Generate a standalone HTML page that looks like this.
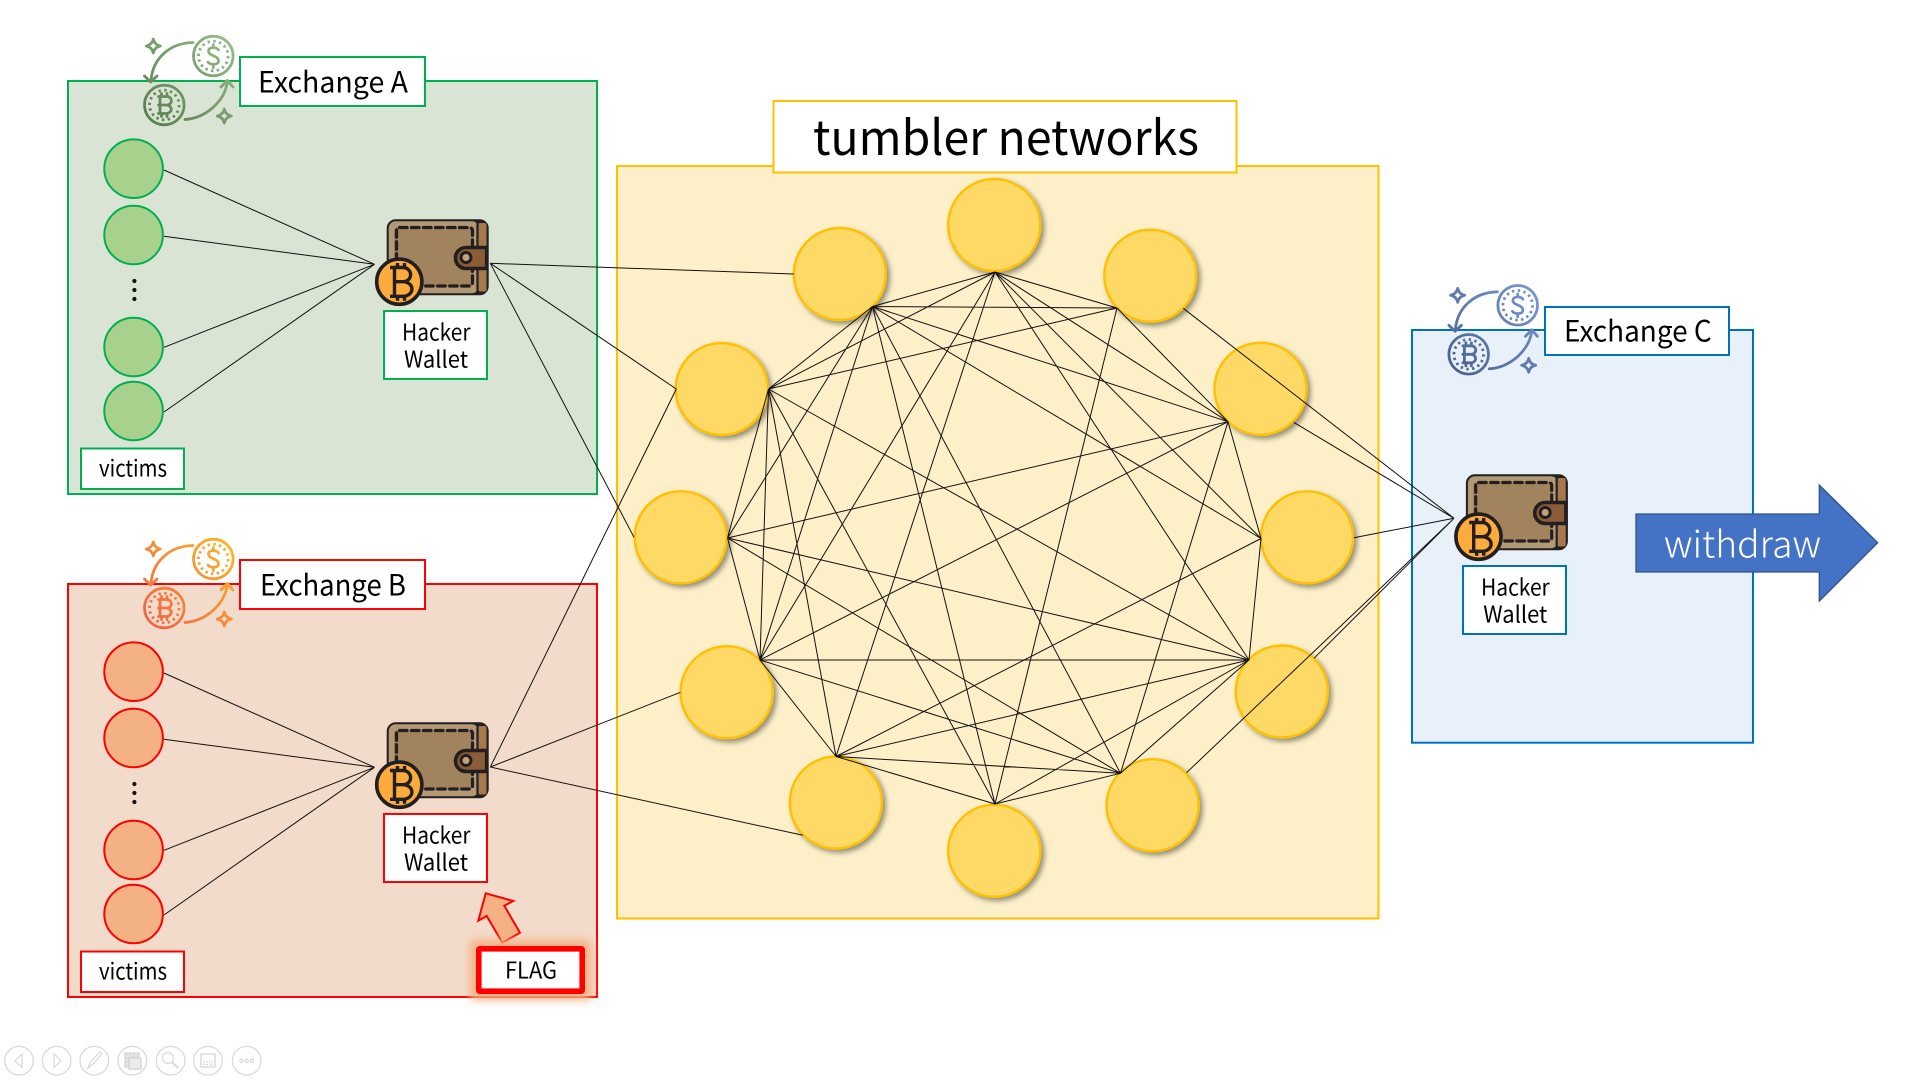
<!DOCTYPE html>
<html lang="en"><head><meta charset="utf-8"><title>Tumbler networks</title>
<style>
html,body{margin:0;padding:0;background:#fff;width:1920px;height:1080px;overflow:hidden}
svg{display:block}
text{font-family:"Noto Sans CJK KR","Liberation Sans",sans-serif;fill:#000}
.tb circle.o{fill:none;stroke:#d9d9d9;stroke-width:1.3}
</style></head><body>
<svg width="1920" height="1080" viewBox="0 0 1920 1080" xmlns="http://www.w3.org/2000/svg">
<defs>
<filter id="sh" x="-30%" y="-30%" width="170%" height="170%"><feDropShadow dx="3" dy="3" stdDeviation="2.6" flood-color="#000" flood-opacity=".42"/></filter>
<filter id="glow" x="-30%" y="-50%" width="160%" height="200%"><feGaussianBlur stdDeviation="4.5"/></filter>
<linearGradient id="gA" gradientUnits="userSpaceOnUse" x1="145" y1="125" x2="235" y2="36"><stop offset="0" stop-color="#567B4E"/><stop offset="1" stop-color="#97C088"/></linearGradient>
<linearGradient id="gB" gradientUnits="userSpaceOnUse" x1="145" y1="125" x2="235" y2="36"><stop offset="0" stop-color="#EE6248"/><stop offset="1" stop-color="#FDB927"/></linearGradient>
<linearGradient id="gC" gradientUnits="userSpaceOnUse" x1="145" y1="125" x2="235" y2="36"><stop offset="0" stop-color="#475F8E"/><stop offset="1" stop-color="#7A9AD2"/></linearGradient>
<g id="xc" fill="none" stroke-linecap="round" stroke-linejoin="round" style="stroke:var(--c)">
<circle cx="213.3" cy="56" r="19.8" stroke-width="2.8"/>
<circle cx="213.3" cy="56" r="14.8" stroke-width="2.8" stroke-dasharray="2.4 3.4" stroke-linecap="butt"/>
<path d="M218.5,50 C217,47 208.5,46.5 208.5,51 C208.5,56.5 218.5,55 218.5,61 C218.5,65.5 209.5,65 208,62 M213.3,44.5 v2.6 M213.3,65 v2.6" stroke-width="2.7"/>
<circle cx="164.3" cy="105" r="19.8" stroke-width="2.8"/>
<circle cx="164.3" cy="105" r="14.8" stroke-width="2.8" stroke-dasharray="2.4 3.4" stroke-linecap="butt"/>
<path d="M158.5,96.5 H167 a4.3,4.2 0 0 1 0,8.5 H158.5 M167,105 a5,4.3 0 0 1 0,8.5 H158.5 M160,96.5 V113.5 M161.5,93.5 v3 M167,93.5 v3 M161.5,113.5 v3 M167,113.5 v3" stroke-width="2.8"/>
<path d="M193,42.5 C170,43 153,58 151,80 M144.5,76 L150.7,82 L157,76" stroke-width="2.8"/>
<path d="M185,119.5 C207,118 225,100 227.3,82 M221,87 L227.3,80.5 L233,87" stroke-width="2.8"/>
<path d="M153.3,39 Q154.5,44.8 160.3,46 Q154.5,47.2 153.3,53 Q152,47.2 146.3,46 Q152,44.8 153.3,39Z" stroke-width="2.8"/>
<path d="M224.3,109 Q225.5,114.8 231.3,116 Q225.5,117.2 224.3,123 Q223,117.2 217.3,116 Q223,114.8 224.3,109Z" stroke-width="2.8"/>
</g>
<g id="wl">
<rect x="388.7" y="221.3" width="98" height="72" rx="7" fill="#A0825A" stroke="#231F20" stroke-width="4"/>
<rect x="388.7" y="221.3" width="90" height="72" rx="7" fill="#B29875"/>
<rect x="479" y="223" width="7.5" height="68.5" rx="2" fill="#A5794B"/>
<rect x="394" y="227" width="79" height="60" rx="4" fill="#A1835D"/>
<path d="M477.5,222 V293" stroke="#231F20" stroke-width="2.2"/>
<rect x="396.5" y="227.5" width="76" height="58.5" rx="3" fill="none" stroke="#231F20" stroke-width="3.2" stroke-linecap="round" stroke-dasharray="7.5 4.5"/>
<path d="M486.7,247.5 H466 a10.5,10.5 0 0 0 0,21 H486.7 Z" fill="#8A5D38" stroke="#231F20" stroke-width="3.6"/>
<circle cx="466" cy="257.5" r="5" fill="#C2A27C" stroke="#231F20" stroke-width="3"/>
<circle cx="399.3" cy="281.7" r="22.6" fill="#FDAB3D" stroke="#231F20" stroke-width="3.6"/>
<path d="M390,267.5 H403 a7.5,7 0 0 1 0,14.2 H394 M403,281.7 a8.8,7.2 0 0 1 0,14.6 H390 M394.5,267.5 V296.3 M397.5,263 v4.5 M404.5,263 v4.5 M397.5,296.3 v4.5 M404.5,296.3 v4.5" fill="none" stroke="#231F20" stroke-width="3.4"/>
</g>
</defs>

<!-- Exchange A -->
<rect x="68" y="81" width="529" height="413" fill="#DAE4D4" stroke="#00B050" stroke-width="2"/>
<use href="#xc" style="--c:url(#gA)"/>
<rect x="240" y="57" width="185" height="49" fill="#fff" stroke="#00B050" stroke-width="2"/>
<text x="258" y="92.5" font-size="29" textLength="150" lengthAdjust="spacingAndGlyphs">Exchange A</text>
<g fill="#A9D18E" stroke="#00B050" stroke-width="2">
<circle cx="133.6" cy="168.7" r="29.3"/><circle cx="133.6" cy="235" r="29.3"/><circle cx="133.6" cy="347" r="29.3"/><circle cx="133.6" cy="411" r="29.3"/>
</g>
<g fill="#111"><circle cx="134.4" cy="281" r="2.1"/><circle cx="134.4" cy="290" r="2.1"/><circle cx="134.4" cy="299" r="2.1"/></g>
<path d="M164,170 L374.5,264.3 M164,236.3 L374.5,264.3 M164,347.3 L374.5,264.3 M164,412 L374.5,264.3" stroke="#111" stroke-width="1" fill="none"/>
<use href="#wl"/>
<rect x="384" y="311" width="103" height="68" fill="#fff" stroke="#00B050" stroke-width="2"/>
<text x="402" y="340.7" font-size="23" textLength="68.5" lengthAdjust="spacingAndGlyphs">Hacker</text>
<text x="404" y="367.7" font-size="23" textLength="64" lengthAdjust="spacingAndGlyphs">Wallet</text>
<rect x="81" y="448.5" width="103" height="40.5" fill="#fff" stroke="#00B050" stroke-width="2"/>
<text x="99" y="476.5" font-size="23" textLength="68" lengthAdjust="spacingAndGlyphs">victims</text>

<!-- Exchange B -->
<rect x="68" y="584" width="529" height="413" fill="#F3DBCB" stroke="#FF0000" stroke-width="2"/>
<g transform="translate(0,503)"><use href="#xc" style="--c:url(#gB)"/></g>
<rect x="240" y="560" width="185" height="49" fill="#fff" stroke="#FF0000" stroke-width="2"/>
<text x="260" y="595.5" font-size="29" textLength="146" lengthAdjust="spacingAndGlyphs">Exchange B</text>
<g fill="#F4B183" stroke="#FF0000" stroke-width="2">
<circle cx="133.6" cy="671.7" r="29.3"/><circle cx="133.6" cy="738" r="29.3"/><circle cx="133.6" cy="850" r="29.3"/><circle cx="133.6" cy="914" r="29.3"/>
</g>
<g fill="#111"><circle cx="134.4" cy="784" r="2.1"/><circle cx="134.4" cy="793" r="2.1"/><circle cx="134.4" cy="802" r="2.1"/></g>
<path d="M164,673 L374.5,767.3 M164,739.3 L374.5,767.3 M164,850.3 L374.5,767.3 M164,915 L374.5,767.3" stroke="#111" stroke-width="1" fill="none"/>
<g transform="translate(0,503)"><use href="#wl"/></g>
<rect x="384" y="814" width="103" height="68" fill="#fff" stroke="#FF0000" stroke-width="2"/>
<text x="402" y="843.7" font-size="23" textLength="68.5" lengthAdjust="spacingAndGlyphs">Hacker</text>
<text x="404" y="870.7" font-size="23" textLength="64" lengthAdjust="spacingAndGlyphs">Wallet</text>
<rect x="81" y="951.5" width="103" height="40.5" fill="#fff" stroke="#FF0000" stroke-width="2"/>
<text x="99" y="979.5" font-size="23" textLength="68" lengthAdjust="spacingAndGlyphs">victims</text>
<polygon points="485.7,893.3 513.3,901 504.3,905.7 520,932.7 502.3,942.7 486.7,916 478.3,920.7" fill="#F4B183" stroke="#FF0000" stroke-width="2"/>
<rect x="470" y="940" width="121" height="60" rx="3" fill="#F4B183" filter="url(#glow)"/>
<rect x="478.8" y="948.8" width="103.4" height="42.4" rx="1" fill="#fff" stroke="#FF0000" stroke-width="5.6"/>
<text x="505" y="978.5" font-size="23" textLength="52" lengthAdjust="spacingAndGlyphs">FLAG</text>

<!-- Tumbler -->
<rect x="617" y="166" width="761.5" height="752.5" fill="#FDF0C9" stroke="#FFC000" stroke-width="2"/>
<rect x="773.5" y="101" width="463" height="71.5" fill="#fff" stroke="#FFC000" stroke-width="2"/>
<text x="813" y="155" font-size="48" textLength="386" lengthAdjust="spacingAndGlyphs">tumbler networks</text>
<g fill="#FFD966" stroke="#FFC000" stroke-width="2.4" filter="url(#sh)">
<circle cx="994.2" cy="225" r="46"/>
<circle cx="839.8" cy="274" r="46"/>
<circle cx="1150.3" cy="275.7" r="46"/>
<circle cx="721.7" cy="389" r="46"/>
<circle cx="1260.5" cy="388.8" r="46"/>
<circle cx="680.7" cy="537.3" r="46"/>
<circle cx="1307" cy="537.3" r="46"/>
<circle cx="726.6" cy="692.2" r="46"/>
<circle cx="1281.7" cy="691.5" r="46"/>
<circle cx="835.8" cy="802.5" r="46"/>
<circle cx="1152.6" cy="805.2" r="46"/>
<circle cx="994.2" cy="850.7" r="46"/>
</g>

<!-- Exchange C -->
<rect x="1412" y="330" width="341" height="412.7" fill="#E8F1F9" stroke="#0070C0" stroke-width="2"/>
<g transform="translate(1304.4,249.3)"><use href="#xc" style="--c:url(#gC)"/></g>
<rect x="1545" y="307" width="184" height="48" fill="#fff" stroke="#0070C0" stroke-width="2"/>
<text x="1564" y="341.5" font-size="29" textLength="147.7" lengthAdjust="spacingAndGlyphs">Exchange C</text>

<!-- Network edges -->
<path fill="none" stroke="#111" stroke-width="1" d="
M995,272 L872.5,306.5 M995,272 L1117,308 M995,272 L1228,421.7 M995,272 L1261,538.5 M995,272 L1249,660 M995,272 L768.5,389 M995,272 L760,660 M995,272 L836,756.5
M872.5,306.5 L1117,308 M872.5,306.5 L768.5,389 M872.5,306.5 L727.5,538 M872.5,306.5 L760,660 M872.5,306.5 L995,804 M872.5,306.5 L1120.5,773.3 M872.5,306.5 L1261,538.5 M872.5,306.5 L1228,421.7
M1117,308 L768.5,389 M1117,308 L1228,421.7 M1117,308 L995,804
M768.5,389 L727.5,538 M768.5,389 L760,660 M768.5,389 L836,756.5 M768.5,389 L995,804 M768.5,389 L1249,660
M1228,421.7 L727.5,538 M1228,421.7 L760,660 M1228,421.7 L1120.5,773.3 M1228,421.7 L1261,538.5
M1261,538.5 L1249,660 M1261,538.5 L836,756.5
M727.5,538 L1249,660 M727.5,538 L1120.5,773.3 M727.5,538 L760,660
M760,660 L1249,660 M760,660 L1120.5,773.3 M760,660 L836,756.5
M836,756.5 L1249,660 M836,756.5 L1120.5,773.3 M836,756.5 L995,804
M1249,660 L1120.5,773.3 M1249,660 L995,804
M1120.5,773.3 L995,804"/>

<!-- External connectors -->
<path fill="none" stroke="#111" stroke-width="1" d="
M490.3,263.3 L793.7,274 M490.3,263.3 L676.3,389 M490.3,263.3 L634,537.3
M490.3,767 L676.3,389 M490.3,767 L680.4,692.3 M490.3,767 L802.9,835.3
M1183.3,308.3 L1454,518.3 M1293.7,422.3 L1454,518.3 M1353.9,537.7 L1454,518.3 M1314,658.3 L1454,518.3 M1186.5,772.7 L1454,518.3"/>

<g transform="translate(1079.2,255)"><use href="#wl"/></g>
<rect x="1463" y="566" width="103" height="68" fill="#fff" stroke="#0070C0" stroke-width="2"/>
<text x="1481" y="595.7" font-size="23" textLength="68.7" lengthAdjust="spacingAndGlyphs">Hacker</text>
<text x="1483.3" y="622.7" font-size="23" textLength="64" lengthAdjust="spacingAndGlyphs">Wallet</text>

<polygon points="1636,514 1819.3,514 1819.3,485 1877.7,542.7 1819.3,601 1819.3,572 1636,572" fill="#4472C4" stroke="#2F528F" stroke-width="1.3"/>
<text x="1664" y="557.3" font-size="37" textLength="157" lengthAdjust="spacingAndGlyphs" style="fill:#fff;font-weight:300">withdraw</text>

<!-- Toolbar -->
<g class="tb" fill="none" stroke="#d9d9d9" stroke-width="1.2">
<circle class="o" cx="19" cy="1060.7" r="14.3"/><circle class="o" cx="56.7" cy="1060.7" r="14.3"/><circle class="o" cx="94.3" cy="1060.7" r="14.3"/><circle class="o" cx="132.3" cy="1060.7" r="14.3"/><circle class="o" cx="170.7" cy="1060.7" r="14.3"/><circle class="o" cx="208" cy="1060.7" r="14.3"/><circle class="o" cx="246.7" cy="1060.7" r="14.3"/>
<path d="M22,1054 L15,1060.7 L22,1067.5 Z"/>
<path d="M54,1054 L61,1060.7 L54,1067.5 Z"/>
<path d="M88,1068 L90,1062.5 L100,1052 L102,1054 L92,1065 Z"/>
<g fill="#e4e4e4" stroke="#d0d0d0"><rect x="125" y="1053" width="6" height="6"/><rect x="133" y="1053" width="6" height="6"/><rect x="125" y="1061" width="6" height="6"/><rect x="129" y="1058" width="12" height="11" fill="#ececec"/></g>
<circle cx="168" cy="1058" r="5.5"/><path d="M172,1062 L178,1068" stroke-width="2"/>
<rect x="201" y="1054" width="14" height="13" stroke-width="1.4"/><path d="M203,1062 H213 M203,1064.5 H213" stroke-dasharray="2 1"/>
<circle cx="241.5" cy="1060.7" r="1.6"/><circle cx="246.7" cy="1060.7" r="1.6"/><circle cx="251.9" cy="1060.7" r="1.6"/>
</g>
</svg>
</body></html>
